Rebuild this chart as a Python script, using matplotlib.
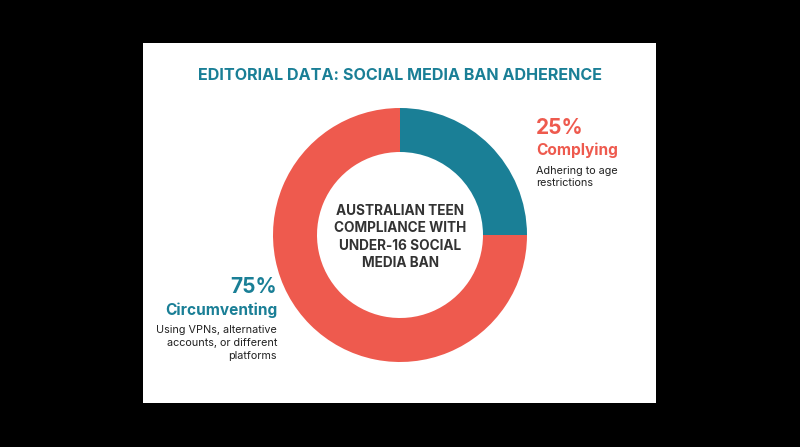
import matplotlib.pyplot as plt
from matplotlib.patches import Rectangle

plt.rcParams['font.family'] = ['Inter', 'DejaVu Sans']

TEAL = "#1A7F96"
RED = "#EE5A4E"
DARK = "#333333"

labels = ["Complying", "Circumventing"]
shares = [25, 75]
notes = ["Adhering to age\nrestrictions",
         "Using VPNs, alternative\naccounts, or different\nplatforms"]
title = "EDITORIAL DATA: SOCIAL MEDIA BAN ADHERENCE"
center_text = "AUSTRALIAN TEEN\nCOMPLIANCE WITH\nUNDER-16 SOCIAL\nMEDIA BAN"

W, H = 800, 447

fig = plt.figure(figsize=(8, 4.47), dpi=100, facecolor="black")
ax = fig.add_axes([0, 0, 1, 1])


def py(y):
    # pixel row from the top -> data y
    return H - y


ax.pie(shares, colors=[TEAL, RED], startangle=90, counterclock=False,
       center=(400, py(235)), radius=127,
       wedgeprops=dict(width=44, edgecolor="none"), frame=True)
ax.set_xlim(0, W)
ax.set_ylim(0, H)
ax.set_aspect("equal")
ax.axis("off")

# white card
ax.add_patch(Rectangle((143, py(403)), 513, 360, facecolor="white",
                       edgecolor="none", zorder=0))

ax.text(400, py(75), title, ha="center", va="center", color=TEAL,
        fontsize=11.6, fontweight="bold")

ax.text(400, py(237), center_text, ha="center", va="center", color=DARK,
        fontsize=9.8, fontweight="bold", linespacing=1.3)

# right label (25%)
ax.text(536, py(128), f"{shares[0]}%", ha="left", va="center", color=RED,
        fontsize=15, fontweight="bold")
ax.text(536, py(150), labels[0], ha="left", va="center", color=RED,
        fontsize=11.1, fontweight="bold")
ax.text(536, py(177), notes[0], ha="left", va="center", color="#222222",
        fontsize=7.8, linespacing=1.35)

# left label (75%)
ax.text(277, py(287), f"{shares[1]}%", ha="right", va="center", color=TEAL,
        fontsize=15, fontweight="bold")
ax.text(277, py(310), labels[1], ha="right", va="center", color=TEAL,
        fontsize=11.1, fontweight="bold")
ax.text(277, py(343), notes[1], ha="right", va="center", color="#222222",
        fontsize=7.8, linespacing=1.35, multialignment="right")

fig.savefig("out.png", dpi=100, facecolor="black")
